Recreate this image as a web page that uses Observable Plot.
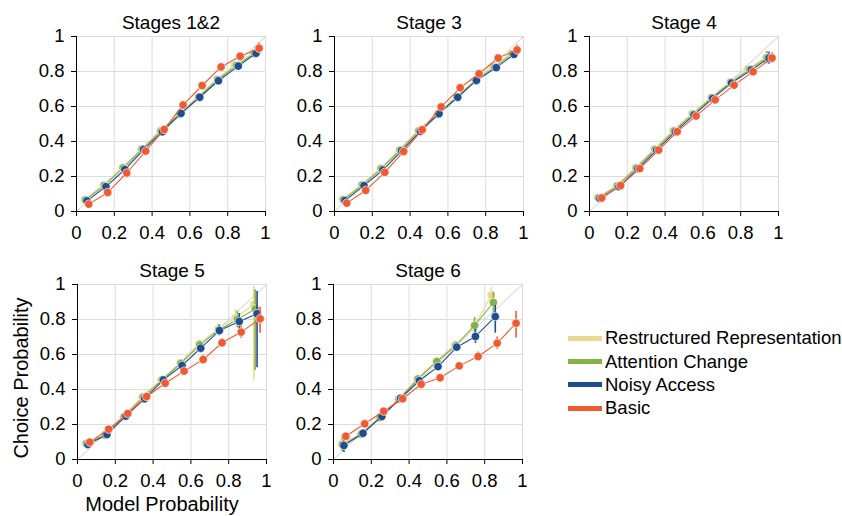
<!DOCTYPE html>
<html>
<head>
<meta charset="utf-8">
<script src="https://cdn.jsdelivr.net/npm/d3@7"></script>
<script src="https://cdn.jsdelivr.net/npm/@observablehq/plot@0.6"></script>
<style>
  html, body { margin: 0; padding: 0; background: #fff; }
  #root { position: relative; width: 842px; height: 516px; overflow: hidden; font-family: "Liberation Sans", Arial, sans-serif; color: #000; }
  .panel { position: absolute; }
  .panel svg { overflow: visible; }
  .lbl { position: absolute; font-size: 20px; line-height: 20px; white-space: nowrap; }
  .leg { position: absolute; left: 568px; font-size: 18.5px; line-height: 18px; }
  .leg .row { position: absolute; left: 0; white-space: nowrap; }
  .leg .sw { position: absolute; left: 0; width: 34px; height: 5px; }
  .leg .tx { position: absolute; left: 37px; top: 0; }
</style>
</head>
<body>
<div id="root"></div>
<script>
// ---------- data ----------
const seriesNames = ["Restructured Representation", "Attention Change", "Noisy Access", "Basic"];
const seriesColors = ["#E8D98F", "#86B04A", "#1F4E8F", "#F05A30"];
const stageTitles = ["Stages 1&2", "Stage 3", "Stage 4", "Stage 5", "Stage 6"];
const tickValues = [0, 0.2, 0.4, 0.6, 0.8, 1];
const diagonal = [0, 1];

// mean model probability per bin, per series
const xRestructured = [0.042, 0.142, 0.242, 0.342, 0.442, 0.542, 0.642, 0.742, 0.835, 0.933];
const xAttention    = [0.047, 0.147, 0.247, 0.347, 0.447, 0.547, 0.647, 0.747, 0.846, 0.940];
const xNoisy        = [0.055, 0.156, 0.256, 0.355, 0.454, 0.553, 0.652, 0.751, 0.856, 0.950];
const xBasic        = [0.065, 0.165, 0.266, 0.366, 0.464, 0.564, 0.665, 0.765, 0.866, 0.966];

// choice probabilities per stage and series
const s12Restructured = [0.068, 0.152, 0.252, 0.357, 0.462, 0.556, 0.657, 0.757, 0.836, 0.905];
const s12Attention    = [0.066, 0.149, 0.249, 0.356, 0.459, 0.557, 0.655, 0.753, 0.834, 0.903];
const s12Noisy        = [0.061, 0.142, 0.240, 0.354, 0.456, 0.561, 0.653, 0.747, 0.831, 0.904];
const s12Basic        = [0.042, 0.109, 0.220, 0.345, 0.469, 0.609, 0.720, 0.826, 0.887, 0.933];

const s3Restructured = [0.070, 0.153, 0.247, 0.352, 0.463, 0.555, 0.656, 0.748, 0.826, 0.902];
const s3Attention    = [0.068, 0.151, 0.244, 0.350, 0.461, 0.556, 0.655, 0.748, 0.824, 0.900];
const s3Noisy        = [0.063, 0.148, 0.237, 0.347, 0.458, 0.559, 0.653, 0.749, 0.822, 0.898];
const s3Basic        = [0.048, 0.121, 0.224, 0.343, 0.467, 0.598, 0.707, 0.787, 0.877, 0.923];

const s4Restructured = [0.080, 0.148, 0.250, 0.358, 0.463, 0.560, 0.652, 0.740, 0.815, 0.880];
const s4Attention    = [0.078, 0.146, 0.248, 0.355, 0.460, 0.556, 0.650, 0.738, 0.812, 0.879];
const s4Noisy        = [0.075, 0.142, 0.245, 0.351, 0.456, 0.552, 0.646, 0.734, 0.809, 0.877];
const s4Basic        = [0.077, 0.149, 0.245, 0.351, 0.456, 0.546, 0.638, 0.722, 0.799, 0.877];

const s5Restructured = [0.092, 0.140, 0.245, 0.360, 0.455, 0.552, 0.662, 0.745, 0.810, 0.886];
const s5Attention    = [0.090, 0.140, 0.245, 0.355, 0.455, 0.550, 0.655, 0.740, 0.800, 0.860];
const s5Noisy        = [0.086, 0.143, 0.248, 0.347, 0.455, 0.537, 0.636, 0.737, 0.789, 0.833];
const s5Basic        = [0.099, 0.173, 0.263, 0.360, 0.436, 0.505, 0.571, 0.667, 0.728, 0.804];

const s6Restructured = [0.090, 0.145, 0.240, 0.345, 0.460, 0.560, 0.655, 0.756, 0.939];
const s6Attention    = [0.085, 0.145, 0.240, 0.345, 0.460, 0.560, 0.650, 0.766, 0.897];
const s6Noisy        = [0.080, 0.150, 0.246, 0.350, 0.450, 0.531, 0.642, 0.703, 0.817];
const s6Basic        = [0.133, 0.204, 0.276, 0.347, 0.430, 0.467, 0.535, 0.589, 0.665, 0.779];

// error bars: half-width, or [below, above]
const e12Restructured = [0.005, 0.005, 0.005, 0.006, 0.006, 0.007, 0.008, 0.009, 0.010, 0.015];
const e12Attention    = [0.005, 0.005, 0.005, 0.006, 0.006, 0.007, 0.008, 0.009, 0.010, 0.015];
const e12Noisy        = [0.005, 0.005, 0.005, 0.006, 0.006, 0.007, 0.008, 0.009, 0.010, 0.015];
const e12Basic        = [0.005, 0.005, 0.005, 0.006, 0.006, 0.007, 0.008, 0.009, 0.012, 0.030];

const e3Restructured = [0.005, 0.005, 0.005, 0.006, 0.006, 0.007, 0.008, 0.009, 0.010, 0.015];
const e3Attention    = [0.005, 0.005, 0.005, 0.006, 0.006, 0.007, 0.008, 0.009, 0.010, 0.015];
const e3Noisy        = [0.005, 0.005, 0.005, 0.006, 0.006, 0.007, 0.008, 0.009, 0.010, 0.015];
const e3Basic        = [0.005, 0.005, 0.005, 0.006, 0.006, 0.007, 0.008, 0.010, 0.012, 0.028];

const e4Restructured = [0.005, 0.005, 0.005, 0.006, 0.006, 0.007, 0.008, 0.009, 0.012, 0.035];
const e4Attention    = [0.005, 0.005, 0.005, 0.006, 0.006, 0.007, 0.008, 0.009, 0.012, 0.035];
const e4Noisy        = [0.005, 0.005, 0.005, 0.006, 0.006, 0.007, 0.008, 0.009, 0.012, 0.035];
const e4Basic        = [0.005, 0.005, 0.005, 0.006, 0.006, 0.007, 0.008, 0.009, 0.012, 0.030];

const e5Restructured = [0.008, 0.008, 0.010, 0.012, 0.015, 0.020, 0.025, 0.030, 0.045, [0.431, 0.103]];
const e5Attention    = [0.008, 0.008, 0.010, 0.012, 0.015, 0.020, 0.025, 0.030, 0.048, [0.351, 0.110]];
const e5Noisy        = [0.008, 0.008, 0.010, 0.012, 0.015, 0.020, 0.025, 0.030, 0.045, [0.309, 0.127]];
const e5Basic        = [0.008, 0.008, 0.010, 0.012, 0.015, 0.020, 0.025, 0.025, 0.035, [0.082, 0.066]];

const e6Restructured = [0.045, 0.015, 0.015, 0.015, 0.015, 0.020, 0.025, 0.040, [0.060, 0.045]];
const e6Attention    = [0.040, 0.015, 0.015, 0.015, 0.015, 0.020, 0.025, [0.065, 0.045], [0.100, 0.060]];
const e6Noisy        = [0.040, 0.015, 0.015, 0.015, 0.015, 0.020, 0.025, 0.040, [0.095, 0.063]];
const e6Basic        = [0.010, 0.010, 0.010, 0.010, 0.015, 0.020, 0.020, 0.025, 0.035, [0.084, 0.067]];

// ---------- assemble ----------
const xs = [xRestructured, xAttention, xNoisy, xBasic];
const stageY = [
  [s12Restructured, s12Attention, s12Noisy, s12Basic],
  [s3Restructured, s3Attention, s3Noisy, s3Basic],
  [s4Restructured, s4Attention, s4Noisy, s4Basic],
  [s5Restructured, s5Attention, s5Noisy, s5Basic],
  [s6Restructured, s6Attention, s6Noisy, s6Basic]
];
const stageE = [
  [e12Restructured, e12Attention, e12Noisy, e12Basic],
  [e3Restructured, e3Attention, e3Noisy, e3Basic],
  [e4Restructured, e4Attention, e4Noisy, e4Basic],
  [e5Restructured, e5Attention, e5Noisy, e5Basic],
  [e6Restructured, e6Attention, e6Noisy, e6Basic]
];

// panel placement (plot-area left edge and top edge in page pixels)
const panelPos = [
  {left: 76, top: 36},
  {left: 334, top: 36},
  {left: 589, top: 36},
  {left: 77, top: 284},
  {left: 333, top: 284}
];
const ML = 48, MR = 12, MT = 32, MB = 34, PW = 189, PH = 175;

const root = document.getElementById("root");

stageTitles.forEach((title, si) => {
  const rows = [];
  seriesNames.forEach((name, k) => {
    stageY[si][k].forEach((y, i) => {
      const e = stageE[si][k][i];
      const dn = Array.isArray(e) ? e[0] : e;
      const up = Array.isArray(e) ? e[1] : e;
      rows.push({series: name, k, x: xs[k][i], y, lo: y - dn, hi: y + up});
    });
  });
  const marks = [
    Plot.ruleX(tickValues.slice(1), {stroke: "#dcdcdc", strokeWidth: 1}),
    Plot.ruleY(tickValues.slice(1), {stroke: "#dcdcdc", strokeWidth: 1}),
    Plot.line(diagonal, {x: d => d, y: d => d, stroke: "#cfcfcf", strokeWidth: 1}),
    Plot.ruleX([0], {stroke: "#000", strokeWidth: 1}),
    Plot.ruleY([0], {stroke: "#000", strokeWidth: 1})
  ];
  seriesNames.forEach((name, k) => {
    const d = rows.filter(r => r.k === k);
    marks.push(Plot.ruleX(d, {x: "x", y1: "lo", y2: "hi", stroke: seriesColors[k], strokeWidth: 1.6}));
    marks.push(Plot.line(d, {x: "x", y: "y", stroke: seriesColors[k], strokeWidth: 1.1}));
    marks.push(Plot.dot(d, {x: "x", y: "y", r: 4.2, fill: seriesColors[k], stroke: "#ffffff", strokeWidth: 0.8, strokeOpacity: 0.8}));
  });
  marks.push(Plot.text([title], {frameAnchor: "top", lineAnchor: "middle", dy: -14, fontSize: 19, text: d => d}));

  const chart = Plot.plot({
    width: ML + PW + MR,
    height: MT + PH + MB,
    marginLeft: ML, marginRight: MR, marginTop: MT, marginBottom: MB,
    style: {fontFamily: "'Liberation Sans', Arial, sans-serif", fontSize: "18.5px", background: "transparent", color: "#000"},
    x: {domain: [0, 1], ticks: tickValues, tickFormat: d => String(d), tickSize: 5, tickPadding: 9, label: null},
    y: {domain: [0, 1], ticks: tickValues, tickFormat: d => String(d), tickSize: 5, tickPadding: 7, label: null},
    marks
  });
  const div = document.createElement("div");
  div.className = "panel";
  div.style.left = (panelPos[si].left - ML) + "px";
  div.style.top = (panelPos[si].top - MT) + "px";
  div.appendChild(chart);
  root.appendChild(div);
});

// axis titles
const yl = document.createElement("div");
yl.className = "lbl";
yl.textContent = "Choice Probability";
yl.style.left = "21px";
yl.style.top = "378px";
yl.style.transform = "translate(-50%, -50%) rotate(-90deg)";
root.appendChild(yl);

const xl = document.createElement("div");
xl.className = "lbl";
xl.textContent = "Model Probability";
xl.style.left = "162px";
xl.style.top = "494px";
xl.style.transform = "translateX(-50%)";
root.appendChild(xl);

// legend
const leg = document.createElement("div");
leg.className = "leg";
leg.style.top = "0px";
const rowCenters = [338, 361.5, 384.5, 408];
seriesNames.forEach((name, k) => {
  const row = document.createElement("div");
  row.className = "row";
  row.style.top = (rowCenters[k] - 9) + "px";
  const sw = document.createElement("div");
  sw.className = "sw";
  sw.style.background = seriesColors[k];
  sw.style.top = "6.5px";
  const tx = document.createElement("div");
  tx.className = "tx";
  tx.textContent = name;
  row.appendChild(sw);
  row.appendChild(tx);
  leg.appendChild(row);
});
root.appendChild(leg);
</script>
</body>
</html>
